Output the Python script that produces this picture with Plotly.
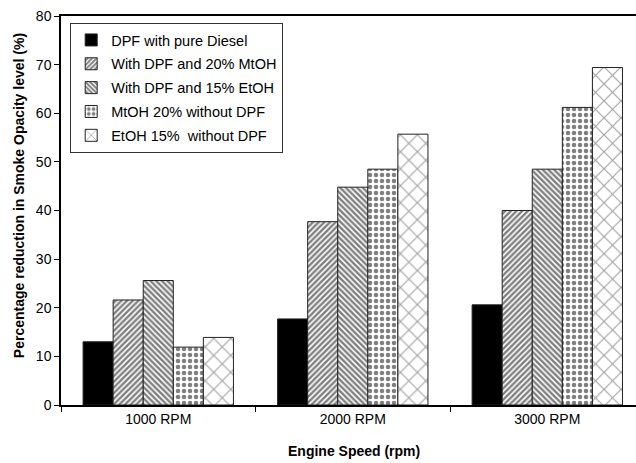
import plotly.graph_objects as go

categories = ["1000 RPM", "2000 RPM", "3000 RPM"]
series_names = [
    "DPF with pure Diesel",
    "With DPF and 20% MtOH",
    "With DPF and 15% EtOH",
    "MtOH 20% without DPF",
    "EtOH 15%  without DPF",
]
dpf_diesel = [13.0, 17.7, 20.6]
dpf_mtoh20 = [21.6, 37.7, 40.0]
dpf_etoh15 = [25.6, 44.8, 48.5]
mtoh20_no_dpf = [11.9, 48.5, 61.2]
etoh15_no_dpf = [13.9, 55.7, 69.4]
y_ticks = [0, 10, 20, 30, 40, 50, 60, 70, 80]

series_values = [dpf_diesel, dpf_mtoh20, dpf_etoh15, mtoh20_no_dpf, etoh15_no_dpf]
patterns = [
    dict(shape=""),
    dict(shape="/", size=4, solidity=0.6, fgcolor="#000000", bgcolor="#ffffff", fillmode="overlay"),
    dict(shape="\\", size=4, solidity=0.6, fgcolor="#000000", bgcolor="#ffffff", fillmode="overlay"),
    dict(shape=".", size=6, solidity=0.45, fgcolor="#000000", bgcolor="#ffffff", fillmode="overlay"),
    dict(shape="x", size=12, solidity=0.18, fgcolor="#444444", bgcolor="#ffffff", fillmode="overlay"),
]
colors = ["#000000", "#ffffff", "#ffffff", "#ffffff", "#ffffff"]

FONT = "Liberation Sans, Arial, sans-serif"

fig = go.Figure()
for i, (name, vals) in enumerate(zip(series_names, series_values)):
    fig.add_trace(go.Bar(
        x=categories, y=vals, name=name,
        legendgroup=f"g{i}",
        marker=dict(color=colors[i], pattern=patterns[i],
                    line=dict(color="#222222", width=1)),
    ))

fig.update_layout(
    width=636, height=463,
    margin=dict(l=61, r=0, t=16, b=58),
    paper_bgcolor="white", plot_bgcolor="white",
    barmode="group", bargap=0.227, bargroupgap=0,
    font=dict(family=FONT, size=14, color="#000000"),
    showlegend=True,
    legend=dict(
        x=0.016, y=0.982, xanchor="left", yanchor="top",
        bgcolor="white", bordercolor="#333333", borderwidth=1,
        font=dict(family=FONT, size=14.5, color="#000000"),
        traceorder="grouped", tracegroupgap=2,
        itemwidth=30,
    ),
    xaxis=dict(
        type="category", range=[-0.5, 2.456],
        showline=True, linecolor="#000000", linewidth=1.5, mirror=True,
        ticks="outside", ticklen=5, tickcolor="#000000", tickson="boundaries",
        tickfont=dict(family=FONT, size=14), showgrid=False, zeroline=False,
    ),
    yaxis=dict(
        range=[0, 80], tickvals=y_ticks,
        showline=True, linecolor="#000000", linewidth=1.5,
        ticks="outside", ticklen=5, tickcolor="#000000",
        tickfont=dict(family=FONT, size=14), showgrid=False, zeroline=False,
    ),
    annotations=[
        dict(text="<b>Engine Speed (rpm)</b>", xref="paper", yref="paper",
             x=0.5096, y=-0.1175, showarrow=False, xanchor="center", yanchor="middle",
             font=dict(family=FONT, size=14)),
        dict(text="<b>Percentage reduction in Smoke Opacity level (%)</b>", xref="paper", yref="paper",
             x=-0.073, y=0.537, textangle=-90, showarrow=False, xanchor="center", yanchor="middle",
             font=dict(family=FONT, size=14)),
    ],
)

fig.write_html("out.html", config={"displayModeBar": False},
               post_script="document.body.style.margin='0';document.body.style.overflow='hidden';")
